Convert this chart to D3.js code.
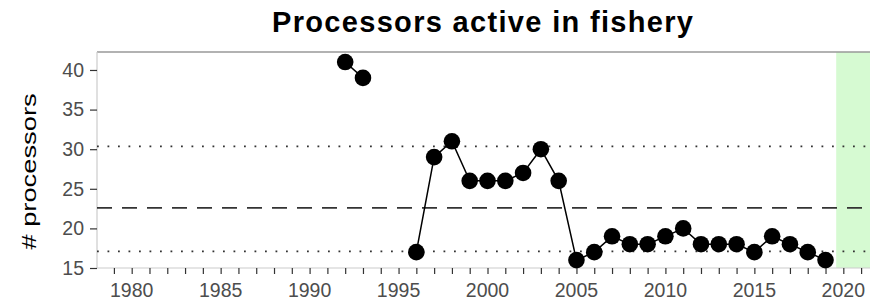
<!DOCTYPE html>
<html>
<head>
<meta charset="utf-8">
<script src="https://cdn.jsdelivr.net/npm/d3@7"></script>
<style>
  body { margin: 0; background: #fff; }
  text { font-family: "Liberation Sans", Arial, sans-serif; }
</style>
</head>
<body>
<div id="chart"></div>
<script>
// years and number of processors (gap 1994-1995)
const years = [1992, 1993, 1996, 1997, 1998, 1999, 2000, 2001, 2002, 2003, 2004, 2005, 2006,
  2007, 2008, 2009, 2010, 2011, 2012, 2013, 2014, 2015, 2016, 2017, 2018, 2019];
const processors = [41, 39, 17, 29, 31, 26, 26, 26, 27, 30, 26, 16, 17,
  19, 18, 18, 19, 20, 18, 18, 18, 17, 19, 18, 17, 16];

// reference lines
const meanLine = 22.6;
const upperLine = 30.35;
const lowerLine = 17.1;

// highlighted recent period
const bandStart = 2019.6;

const xTicks = [1980, 1985, 1990, 1995, 2000, 2005, 2010, 2015, 2020];
const yTicks = [15, 20, 25, 30, 35, 40];

const width = 881, height = 302;
const margin = { top: 52, right: 11, bottom: 34, left: 97 };
const w = width - margin.left - margin.right;
const h = height - margin.top - margin.bottom;

const svg = d3.select("#chart").append("svg")
  .attr("width", width)
  .attr("height", height);

const chart = svg.append("g")
  .attr("transform", `translate(${margin.left},${margin.top})`);

const x = d3.scaleLinear().domain([1978.05, 2021.5]).range([0, w]);
const y = d3.scaleLinear().domain([15, 42.27]).range([h, 0]);

// green band
chart.append("rect")
  .attr("x", x(bandStart))
  .attr("y", 0)
  .attr("width", x(2021.5) - x(bandStart))
  .attr("height", h)
  .attr("fill", "#d6fad2");

// panel borders
chart.append("line")
  .attr("x1", 0).attr("x2", w).attr("y1", 0).attr("y2", 0)
  .attr("stroke", "#999").attr("stroke-width", 1.6);
chart.append("line")
  .attr("x1", 0).attr("x2", 0).attr("y1", 0).attr("y2", h)
  .attr("stroke", "#ccc").attr("stroke-width", 1.2);
chart.append("line")
  .attr("x1", 0).attr("x2", w).attr("y1", h).attr("y2", h)
  .attr("stroke", "#ccc").attr("stroke-width", 1.2);

// reference lines
[upperLine, lowerLine].forEach(v => {
  chart.append("line")
    .attr("x1", 0).attr("x2", w)
    .attr("y1", y(v)).attr("y2", y(v))
    .attr("stroke", "#333")
    .attr("stroke-width", 1.8)
    .attr("stroke-dasharray", "1.8,8.7");
});
chart.append("line")
  .attr("x1", 0).attr("x2", w)
  .attr("y1", y(meanLine)).attr("y2", y(meanLine))
  .attr("stroke", "#333")
  .attr("stroke-width", 1.8)
  .attr("stroke-dasharray", "15,10");

// data
const data = years.map((yr, i) => ({ year: yr, value: processors[i] }));

// split into consecutive runs so missing years leave a gap
const runs = [];
data.forEach((d, i) => {
  if (i === 0 || d.year - data[i - 1].year !== 1) runs.push([]);
  runs[runs.length - 1].push(d);
});

chart.selectAll(".run")
  .data(runs)
  .join("path")
  .attr("class", "run")
  .attr("fill", "none")
  .attr("stroke", "#000")
  .attr("stroke-width", 1.5)
  .attr("d", d3.line().x(d => x(d.year)).y(d => y(d.value)));

chart.selectAll(".pt")
  .data(data)
  .join("circle")
  .attr("class", "pt")
  .attr("cx", d => x(d.year))
  .attr("cy", d => y(d.value))
  .attr("r", 8.3)
  .attr("fill", "#000");

// x axis
const xAxis = chart.append("g")
  .attr("transform", `translate(0,${h})`)
  .call(d3.axisBottom(x).tickValues(d3.range(1979, 2022)).tickSize(6).tickFormat(""));
xAxis.select(".domain").remove();
xAxis.selectAll("line").attr("stroke", "#333").attr("stroke-width", 1.2);

chart.append("g")
  .selectAll("text")
  .data(xTicks)
  .join("text")
  .attr("x", d => x(d))
  .attr("y", h + 29)
  .attr("text-anchor", "middle")
  .attr("font-size", 19.5)
  .attr("fill", "#4d4d4d")
  .text(d => d);

// y axis
const yAxis = chart.append("g")
  .call(d3.axisLeft(y).tickValues(yTicks).tickSize(7).tickPadding(6));
yAxis.select(".domain").remove();
yAxis.selectAll("line").attr("stroke", "#333").attr("stroke-width", 1.2);
yAxis.selectAll("text")
  .attr("font-size", 19.5)
  .attr("fill", "#4d4d4d")
  .attr("font-family", "'Liberation Sans', Arial, sans-serif");

// title
svg.append("text")
  .attr("x", 482.5)
  .attr("y", 32)
  .attr("text-anchor", "middle")
  .attr("font-size", 29)
  .attr("font-weight", "bold")
  .attr("fill", "#000")
  .attr("textLength", 421)
  .attr("lengthAdjust", "spacing")
  .text("Processors active in fishery");

// y label (stretched along its length like the reference)
svg.append("text")
  .attr("transform", `translate(36,171.5) rotate(-90) scale(1.3,1)`)
  .attr("text-anchor", "middle")
  .attr("font-size", 21)
  .attr("fill", "#000")
  .text("# processors");
</script>
</body>
</html>
